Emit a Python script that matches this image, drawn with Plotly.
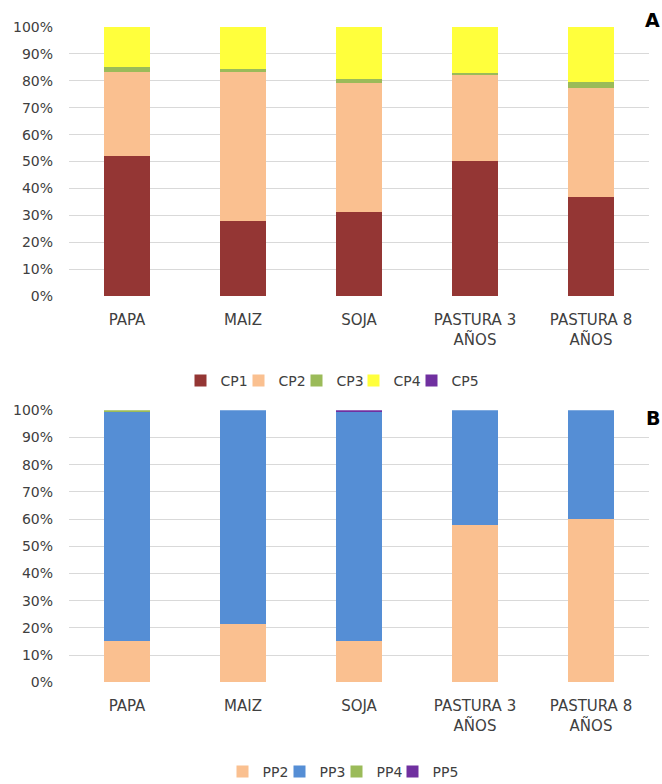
import plotly.graph_objects as go

categories = ["PAPA", "MAIZ", "SOJA", "PASTURA 3<br>AÑOS", "PASTURA 8<br>AÑOS"]
y_ticks = [0, 10, 20, 30, 40, 50, 60, 70, 80, 90, 100]
y_tick_labels = [f"{v}%" for v in y_ticks]

# Panel A: CP composition (%)
cp_names = ["CP1", "CP2", "CP3", "CP4", "CP5"]
cp1 = [52.0, 27.9, 31.2, 50.3, 36.8]
cp2 = [31.2, 55.4, 47.9, 31.9, 40.7]
cp3 = [2.1, 1.0, 1.6, 0.6, 2.1]
cp4 = [14.7, 15.7, 19.3, 17.2, 20.4]
cp5 = [0.0, 0.0, 0.0, 0.0, 0.0]

# Panel B: PP composition (%)
pp_names = ["PP2", "PP3", "PP4", "PP5"]
pp2 = [15.1, 21.3, 15.1, 57.8, 59.9]
pp3 = [84.5, 78.7, 84.5, 42.2, 40.1]
pp4 = [0.4, 0.0, 0.0, 0.0, 0.0]
pp5 = [0.0, 0.0, 0.4, 0.0, 0.0]

colors = {
    "CP1": "#943634", "CP2": "#FAC090", "CP3": "#9BBB59", "CP4": "#FFFF3C", "CP5": "#7030A0",
    "PP2": "#FAC090", "PP3": "#558ED5", "PP4": "#9BBB59", "PP5": "#7030A0",
}

FONT = "DejaVu Sans"
TXT = "#404040"
W, H = 662, 784

# legend entry positions (px from left) and row heights (px from top)
cp_legend_x = [200, 258, 316, 373, 431]
pp_legend_x = [242, 299, 356, 412]
cp_legend_y = 381
pp_legend_y = 772

fig = go.Figure()
legends = {}
legend_idx = 0


def add_legend(px_left, px_y):
    global legend_idx
    legend_idx += 1
    key = "legend" if legend_idx == 1 else f"legend{legend_idx}"
    legends[key] = dict(
        orientation="h", x=(px_left + 5.5 - 25) / W, xanchor="left",
        y=1 - px_y / H, yanchor="middle", bgcolor="rgba(0,0,0,0)",
        font=dict(family=FONT, size=14, color=TXT), itemwidth=30,
    )
    return key


for name, vals, lx in zip(cp_names, [cp1, cp2, cp3, cp4, cp5], cp_legend_x):
    fig.add_trace(go.Bar(x=categories, y=vals, name=name, marker_color=colors[name],
                         marker_line_width=0, xaxis="x", yaxis="y", showlegend=True,
                         legend=add_legend(lx, cp_legend_y)))

for name, vals, lx in zip(pp_names, [pp2, pp3, pp4, pp5], pp_legend_x):
    fig.add_trace(go.Bar(x=categories, y=vals, name=name, marker_color=colors[name],
                         marker_line_width=0, xaxis="x2", yaxis="y2", showlegend=True,
                         legend=add_legend(lx, pp_legend_y)))

xdom = [69 / W, 649 / W]
ydomA = [1 - 296 / H, 1 - 27 / H]
ydomB = [1 - 682.3 / H, 1 - 410.3 / H]

yaxis_common = dict(range=[0, 100], tickvals=y_ticks, ticktext=y_tick_labels,
                    showgrid=True, gridcolor="#d9d9d9", gridwidth=1, zeroline=False,
                    showline=False, ticks="", ticklabelstandoff=15,
                    tickfont=dict(family=FONT, size=14, color=TXT))
xaxis_common = dict(showline=False, showgrid=False, ticks="", ticklabelstandoff=13,
                    tickfont=dict(family=FONT, size=15, color=TXT))

fig.update_layout(
    width=W, height=H,
    margin=dict(l=0, r=0, t=0, b=0, autoexpand=False),
    paper_bgcolor="white", plot_bgcolor="white",
    showlegend=True,
    barmode="stack", bargap=0.6,
    font=dict(family=FONT, color=TXT),
    xaxis=dict(domain=xdom, anchor="y", **xaxis_common),
    yaxis=dict(domain=ydomA, anchor="x", **yaxis_common),
    xaxis2=dict(domain=xdom, anchor="y2", **xaxis_common),
    yaxis2=dict(domain=ydomB, anchor="x2", **yaxis_common),
    annotations=[
        dict(text="<b>A</b>", x=1, y=1 - 20 / H, xref="paper", yref="paper",
             xanchor="right", yanchor="middle", showarrow=False,
             font=dict(family=FONT, size=19, color="black")),
        dict(text="<b>B</b>", x=1, y=1 - 418 / H, xref="paper", yref="paper",
             xanchor="right", yanchor="middle", showarrow=False,
             font=dict(family=FONT, size=19, color="black")),
    ],
    **legends,
)

fig.write_html("out.html")
